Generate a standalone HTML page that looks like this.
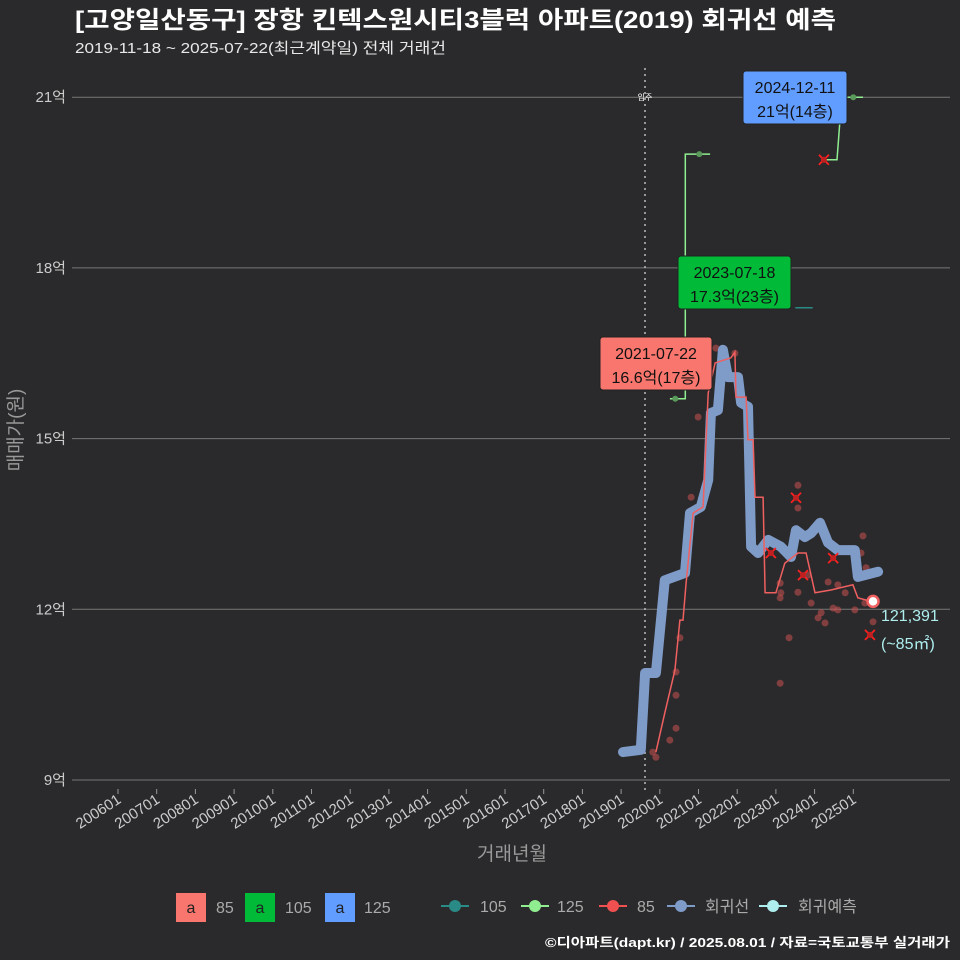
<!DOCTYPE html>
<html><head><meta charset="utf-8">
<style>
html,body{margin:0;padding:0;background:#2a2a2c;}
svg{display:block;font-family:"Liberation Sans","Noto Sans CJK KR",sans-serif;}
</style></head>
<body>
<svg id="chart" width="960" height="960" viewBox="0 0 960 960" xmlns="http://www.w3.org/2000/svg">
<rect x="0" y="0" width="960" height="960" fill="#2a2a2c"/>
<text x="75" y="28" fill="#ffffff" font-size="24" font-weight="bold" textLength="761" lengthAdjust="spacingAndGlyphs">[고양일산동구] 장항 킨텍스원시티3블럭 아파트(2019) 회귀선 예측</text>
<text x="75" y="53" fill="#e8e8e8" font-size="15" textLength="371" lengthAdjust="spacingAndGlyphs">2019-11-18 ~ 2025-07-22(최근계약일) 전체 거래건</text>
<g id="grid"></g>
<g id="marks"></g>
<text transform="translate(22,430) rotate(-90)" text-anchor="middle" fill="#999" font-size="19">매매가(원)</text>
<text x="512" y="860" text-anchor="middle" fill="#999" font-size="19">거래년월</text>
<g font-size="16" fill="#aaa">
 <rect x="176" y="893" width="30" height="29" fill="#f8766d"/>
 <text x="191" y="913" text-anchor="middle" fill="#222">a</text><text x="216" y="913">85</text>
 <rect x="245" y="893" width="30" height="29" fill="#00ba38"/>
 <text x="260" y="913" text-anchor="middle" fill="#222">a</text><text x="285" y="913">105</text>
 <rect x="325" y="893" width="30" height="29" fill="#619cff"/>
 <text x="340" y="913" text-anchor="middle" fill="#222">a</text><text x="364" y="913">125</text>
 <g><line x1="441" y1="906" x2="469" y2="906" stroke="#2a8a86" stroke-width="2"/><circle cx="455" cy="906" r="6" fill="#2a8a86"/></g><text x="480" y="912">105</text>
 <g><line x1="521" y1="906" x2="549" y2="906" stroke="#90ee90" stroke-width="2"/><circle cx="535" cy="906" r="6" fill="#90ee90"/></g><text x="557" y="912">125</text>
 <g><line x1="599" y1="906" x2="627" y2="906" stroke="#f05050" stroke-width="2"/><circle cx="613" cy="906" r="6" fill="#f05050"/></g><text x="637" y="912">85</text>
 <g><line x1="667" y1="906" x2="695" y2="906" stroke="#7f9bc8" stroke-width="2"/><circle cx="681" cy="906" r="6" fill="#7f9bc8"/></g><text x="705" y="912">회귀선</text>
 <g><line x1="759" y1="906" x2="787" y2="906" stroke="#aeeeee" stroke-width="2"/><circle cx="773" cy="906" r="6" fill="#aeeeee"/></g><text x="798" y="912">회귀예측</text>
</g>
<text x="950" y="947" text-anchor="end" fill="#fff" font-size="13" font-weight="bold" textLength="405" lengthAdjust="spacingAndGlyphs">©디아파트(dapt.kr) / 2025.08.01 / 자료=국토교통부 실거래가</text>
</svg>
<script>
const yTicks=[90000,120000,150000,180000,210000];
const yTickLabels=["9억","12억","15억","18억","21억"];
const xTickYears=[2006,2007,2008,2009,2010,2011,2012,2013,2014,2015,2016,2017,2018,2019,2020,2021,2022,2023,2024,2025];
const regT=[2019.05,2019.51,2019.62,2019.90,2020.13,2020.65,2020.78,2021.06,2021.25,2021.32,2021.50,2021.63,2021.76,2022.02,2022.10,2022.28,2022.36,2022.54,2022.80,2023.13,2023.39,2023.52,2023.75,2023.91,2024.14,2024.35,2024.60,2024.79,2025.04,2025.12,2025.64];
const regV=[94900,95300,108800,108800,125100,126400,136900,138000,142700,154500,155000,165600,160800,160800,156300,155600,131000,129900,132200,131000,129200,133900,132700,133400,135200,131700,130400,130400,130400,125700,126600];
const l85T=[2019.90,2020.13,2020.39,2020.52,2020.60,2020.68,2020.86,2021.12,2021.25,2021.43,2021.84,2021.94,2021.97,2022.23,2022.28,2022.41,2022.46,2022.67,2022.72,2023.00,2023.23,2023.57,2023.78,2024.01,2024.42,2024.99,2025.12,2025.51];
const l85V=[94900,101800,109300,118100,118100,124600,136900,138000,158000,163300,164200,165200,157300,157300,149800,149800,139700,139700,122900,122900,128100,129900,129900,122900,123400,124300,122000,121300];
const l125T=[2020.26,2020.66,2020.66,2021.30,2021.30];
const l125V=[157000,157000,200000,200000,200000];
const l125bT=[2024.24,2024.58,2024.70,2025.25];
const l125bV=[199000,199000,210000,210000];
const l105T=[2023.50,2023.95];
const l105V=[173000,173000];
const p85T=[2020.99,2020.81,2023.57,2023.57,2025.25,2025.20,2023.11,2023.13,2023.11,2023.57,2023.91,2023.83,2024.35,2024.60,2024.79,2024.48,2024.60,2024.17,2024.09,2024.27,2025.04,2025.30,2025.33,2025.51,2023.34,2023.11,2020.52,2020.42,2020.42,2020.42,2020.26,2019.82,2019.90,2021.45,2021.94];
const p85V=[153800,139700,141800,137800,132900,129900,124600,122900,122000,123000,121100,126000,124800,124300,122900,120200,119900,119400,118500,117600,119900,121100,127300,117800,115000,107000,115000,109000,104900,99100,97000,94900,94000,165900,165000];
const xMarkT=[2023.52,2022.87,2023.70,2024.48,2025.43,2024.24];
const xMarkV=[139600,129900,126000,129000,115500,199000];
const predT=2025.51, predV=121391;

const NS="http://www.w3.org/2000/svg";
const X=t=>118+(t-2006)*38.7;
const Y=v=>780-(v-90000)*56.9/10000;
function mk(tag,attrs,parent){const e=document.createElementNS(NS,tag);for(const k in attrs)e.setAttribute(k,attrs[k]);parent.appendChild(e);return e;}
const grid=document.getElementById('grid'), marks=document.getElementById('marks');
yTicks.forEach((v,i)=>{
 const l=mk('line',{x1:72,x2:950,y1:Y(v),y2:Y(v),stroke:'#777','stroke-width':1},grid);
 
 
 const t=mk('text',{x:66,y:Y(v)+5,'text-anchor':'end',fill:'#ccc','font-size':15},grid);
 t.textContent=yTickLabels[i];
 
 
});
xTickYears.forEach(yr=>{
 const x=X(yr);
 const tk=mk('line',{x1:x,x2:x,y1:789,y2:794,stroke:'#999'},grid);
 
 
 const t=mk('text',{transform:`translate(${x+4},802) rotate(-33)`,'text-anchor':'end',fill:'#ccc','font-size':15},grid);
 t.textContent=yr+'01';
 
 
});
const mv=mk('line',{x1:645,x2:645,y1:68,y2:790,stroke:'#bbb','stroke-dasharray':'2,4','stroke-width':1.5},marks);


const mvt=mk('text',{x:645,y:100,'text-anchor':'middle',fill:'#fff','font-size':8},marks);
mvt.textContent='입주';


const pts=(T,V)=>T.map((t,i)=>X(t).toFixed(1)+','+Y(V[i]).toFixed(1)).join(' ');
p85T.forEach((t,i)=>{
 const c=mk('circle',{cx:X(t),cy:Y(p85V[i]),r:3.5,fill:'#c85050','fill-opacity':0.55},marks);
 
 
});
const rl=mk('polyline',{points:pts(regT,regV),fill:'none',stroke:'#7f9bc8','stroke-width':10,'stroke-linejoin':'round','stroke-linecap':'round'},marks);


const a=mk('polyline',{points:pts(l85T,l85V),fill:'none',stroke:'#f06060','stroke-width':1.5},marks);


const g1=mk('polyline',{points:pts(l125T,l125V),fill:'none',stroke:'#90ee90','stroke-width':1.5},marks);


const g2=mk('polyline',{points:pts(l125bT,l125bV),fill:'none',stroke:'#90ee90','stroke-width':1.5},marks);


const t1=mk('polyline',{points:pts(l105T,l105V),fill:'none',stroke:'#2a8a86','stroke-width':1.5},marks);


[[2020.40,157000],[2021.02,200000],[2025.00,210000]].forEach(p=>{
 const c=mk('circle',{cx:X(p[0]),cy:Y(p[1]),r:3,fill:'#5a9a5a'},marks);
 
 
});
xMarkT.forEach((t,i)=>{
 const x=X(t),y=Y(xMarkV[i]);
 const g=mk('g',{},marks);
 
 
 mk('path',{d:`M${x-5},${y-5}L${x+5},${y+5}M${x-5},${y+5}L${x+5},${y-5}`,stroke:'#ff2020','stroke-width':1.8},g);
 mk('circle',{cx:x,cy:y,r:3,fill:'#c02020'},g);
});
const pr=mk('circle',{cx:X(predT),cy:Y(predV),r:5.5,fill:'#fff',stroke:'#f06060','stroke-width':2.5},marks);


const pt1=mk('text',{x:881,y:621,fill:'#aeeeee','font-size':16},marks);
pt1.textContent=predV.toLocaleString('en-US');


const pt2=mk('text',{x:881,y:649,fill:'#aeeeee','font-size':16},marks);
pt2.textContent='(~85㎡)';


function box(x,y,w,h,fill,l1,l2,name){
 const g=mk('g',{},marks);
 
 
 mk('rect',{x:x,y:y,width:w,height:h,rx:3,fill:fill,stroke:'#222','stroke-width':1},g);
 const a=mk('text',{x:x+w/2,y:y+22,'text-anchor':'middle',fill:'#111','font-size':16},g);a.textContent=l1;
 const b=mk('text',{x:x+w/2,y:y+46,'text-anchor':'middle',fill:'#111','font-size':16},g);b.textContent=l2;
}
box(600,337,112,53,'#f8766d','2021-07-22','16.6억(17층)','annotation-85');
box(678,256,113,53,'#00ba38','2023-07-18','17.3억(23층)','annotation-105');
box(743,71,104,53,'#619cff','2024-12-11','21억(14층)','annotation-125');
</script>
</body></html>
